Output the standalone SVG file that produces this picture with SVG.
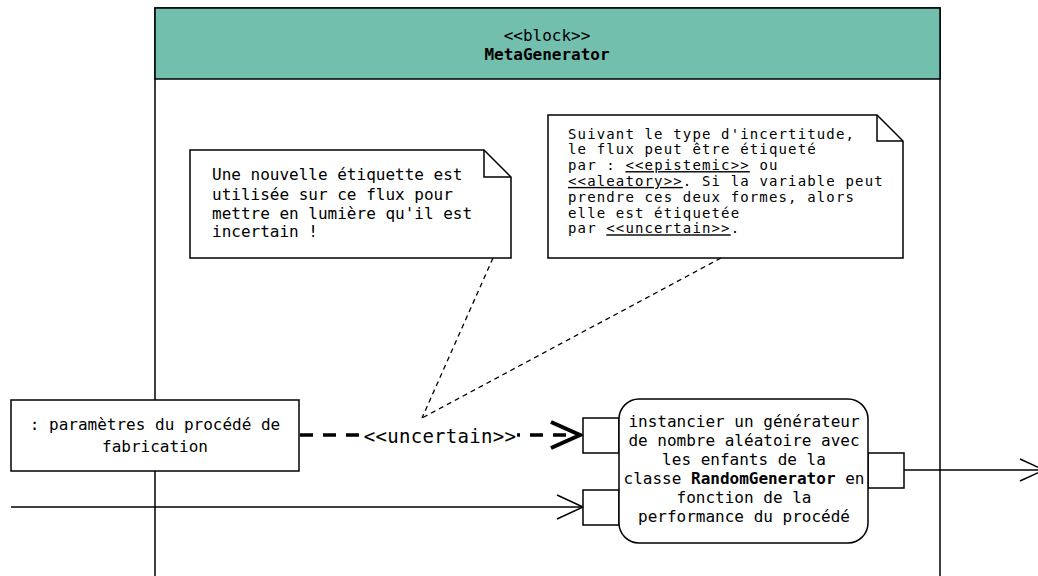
<svg xmlns="http://www.w3.org/2000/svg" width="1038" height="576" viewBox="0 0 1038 576">
<defs>
<style>
text{font-family:"DejaVu Sans Mono","Liberation Mono",monospace;font-size:16px;fill:#000}
.c{text-anchor:middle}
.b{font-weight:bold}
.u{text-decoration:underline}
.n2{font-size:14px;letter-spacing:1.14px}
.lbl{font-size:19px;letter-spacing:0.3px}
.box{fill:#fff;stroke:#000;stroke-width:1.5}
.note{fill:#fff;stroke:#000;stroke-width:1.5}
.port{fill:#fff;stroke:#000;stroke-width:1.5}
.flow{fill:none;stroke:#000;stroke-width:1.5}
.head{fill:none;stroke:#000;stroke-width:1.5}
.anchor{fill:none;stroke:#000;stroke-width:1.3;stroke-dasharray:5 4}
</style>
</defs>
<rect width="1038" height="576" fill="#fff"/>
<g id="MetaGenerator">
<rect x="155" y="8" width="785" height="580" class="box"/>
<rect x="155" y="8" width="785" height="71" fill="#72bfae" stroke="#000" stroke-width="1.5"/>
<text x="547" y="41" class="c">&lt;&lt;block&gt;&gt;</text>
<text x="547" y="60" class="c b">MetaGenerator</text>
</g>
<g id="connectors">
<line x1="493" y1="258" x2="422" y2="418" class="anchor"/>
<line x1="721" y1="258" x2="422" y2="418" class="anchor"/>
<line x1="300" y1="435" x2="568" y2="435" stroke="#000" stroke-width="3.5" stroke-dasharray="13 10"/>
<rect x="363" y="426" width="154" height="21" fill="#fff"/>
<text x="440" y="443" class="c lbl">&lt;&lt;uncertain&gt;&gt;</text>
<polyline points="551,422 580,435 551,448" fill="none" stroke="#000" stroke-width="4"/>
<line x1="11" y1="507" x2="582" y2="507" class="flow"/>
<polyline points="557,495 583,507 557,519" class="head"/>
<line x1="904" y1="470" x2="1043" y2="470" class="flow"/>
<polyline points="1020,459 1044,470 1020,481" class="head"/>
</g>
<g id="note1">
<path d="M190,150 H484 L511,177 V258 H190 Z" class="note"/>
<path d="M484,150 V177 H511" fill="none" stroke="#000" stroke-width="1.5"/>
<text x="212" y="180">Une nouvelle étiquette est</text>
<text x="212" y="199.5">utilisée sur ce flux pour</text>
<text x="212" y="219">mettre en lumière qu'il est</text>
<text x="212" y="237">incertain !</text>
</g>
<g id="note2">
<path d="M548,115 H877 L903,141 V258 H548 Z" class="note"/>
<path d="M877,115 V141 H903" fill="none" stroke="#000" stroke-width="1.5"/>
<text x="568" y="138.5" class="n2">Suivant le type d'incertitude,</text>
<text x="568" y="154.3" class="n2">le flux peut être étiqueté</text>
<text x="568" y="170.1" class="n2">par : <tspan class="u">&lt;&lt;epistemic&gt;&gt;</tspan> ou</text>
<text x="568" y="185.9" class="n2"><tspan class="u">&lt;&lt;aleatory&gt;&gt;</tspan>. Si la variable peut</text>
<text x="568" y="201.7" class="n2">prendre ces deux formes, alors</text>
<text x="568" y="217.5" class="n2">elle est étiquetée</text>
<text x="568" y="233.3" class="n2">par <tspan class="u">&lt;&lt;uncertain&gt;&gt;</tspan>.</text>
</g>
<g id="parametres">
<rect x="11" y="400" width="288" height="71" class="box"/>
<text x="155" y="430" class="c">: paramètres du procédé de</text>
<text x="155" y="452" class="c">fabrication</text>
</g>
<g id="action">
<rect x="583" y="418" width="36" height="35" class="port"/>
<rect x="583" y="490" width="36" height="35" class="port"/>
<rect x="868" y="453" width="36" height="35" class="port"/>
<rect x="619" y="399" width="249" height="144" rx="20" ry="20" class="box"/>
<text x="744" y="427" class="c">instancier un générateur</text>
<text x="744" y="446" class="c">de nombre aléatoire avec</text>
<text x="744" y="465" class="c">les enfants de la</text>
<text x="744" y="484" class="c">classe <tspan class="b">RandomGenerator</tspan> en</text>
<text x="744" y="503" class="c">fonction de la</text>
<text x="744" y="522" class="c">performance du procédé</text>
</g>
</svg>
